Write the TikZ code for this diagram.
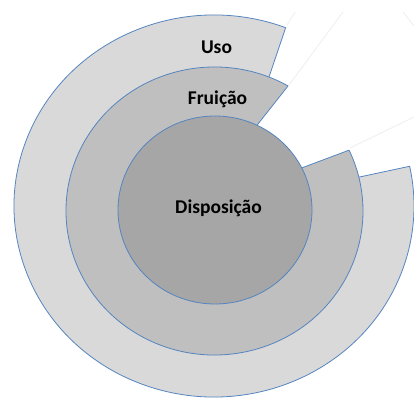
\documentclass[tikz,border=0pt]{standalone}
\usepackage{fontspec}
\setmainfont{Carlito}
\usetikzlibrary{calc}
\definecolor{ringblue}{HTML}{5585C0}
\definecolor{usofill}{HTML}{D9D9D9}
\definecolor{fruifill}{HTML}{BFBFBF}
\definecolor{dispfill}{HTML}{A6A6A6}
\definecolor{faint}{HTML}{EFEFEF}
\tikzset{
  ring/.style={draw=ringblue, line width=0.8pt, line join=round},
  faintline/.style={draw=faint, line width=0.9pt},
  lbl/.style={font=\fontsize{19.5}{22}\selectfont\bfseries, text=black, inner sep=0pt}
}
\begin{document}
\begin{tikzpicture}[x=1pt,y=1pt]
\useasboundingbox (0,0) rectangle (414,399);
\clip (0,0) rectangle (414,399);
% centres
\coordinate (O1) at (214,193);
\coordinate (O2) at (214.5,188);
\coordinate (O3) at (215,189);
% corners
\coordinate (U1) at (269.5,323.5);
\coordinate (U2) at (359.5,222);
\coordinate (F1) at (258,275);
\coordinate (F2) at (302.3,231.3);
% faint edges of the removed pieces
\draw[faintline] (287,374) -- (295,387);
\draw[faintline] (289,314) -- (343,387);
\draw[faintline] (403,387) -- (414,373);
\draw[faintline] (350,251) -- (414,282);
% Uso
\path[ring, fill=usofill] (O1) -- (U1) -- ($(O1)+(69:200pt and 191pt)$)
  arc[start angle=69, end angle=372, x radius=200pt, y radius=191pt] -- (U2) -- cycle;
% Fruicao
\path[ring, fill=fruifill] (O2) -- (F1) -- ($(O2)+(60.3:148.5pt and 144pt)$)
  arc[start angle=60.3, end angle=385, x radius=148.5pt, y radius=144pt] -- (F2) -- cycle;
% Disposicao
\path[ring, fill=dispfill] (O3) ellipse[x radius=97pt, y radius=94pt];
% labels
\node[lbl] (uso) at (216.5,352) {Uso};
\node[lbl] (fruicao) at (217.5,300) {Fruição};
\node[lbl] (disposicao) at (218.5,191) {Disposição};
\end{tikzpicture}
\end{document}
